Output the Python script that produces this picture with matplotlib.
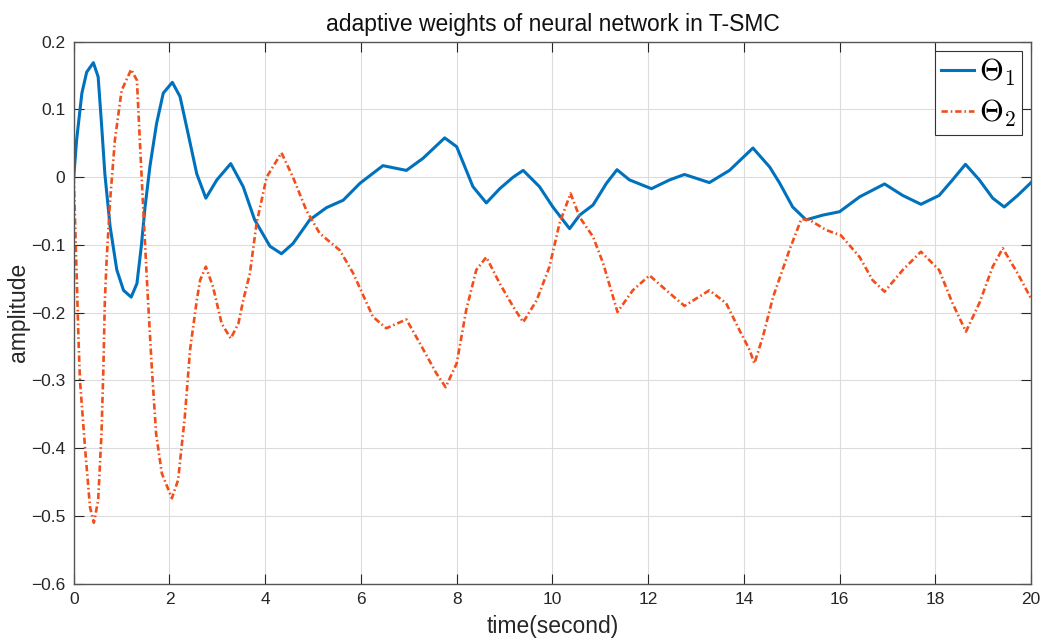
import matplotlib.pyplot as plt
import numpy as np

plt.rcParams["font.family"] = ["Liberation Sans", "DejaVu Sans"]
plt.rcParams["mathtext.fontset"] = "cm"

# values
t1 = [0.0, 0.06, 0.17, 0.27, 0.41, 0.51, 0.58, 0.65, 0.76, 0.90, 1.04, 1.20, 1.32,
      1.41, 1.49, 1.59, 1.73, 1.87, 2.06, 2.22, 2.39, 2.57, 2.76, 2.99, 3.28, 3.54,
      3.78, 4.10, 4.34, 4.58, 4.93, 5.28, 5.63, 5.98, 6.46, 6.95, 7.30, 7.75, 8.00,
      8.34, 8.62, 8.90, 9.18, 9.39, 9.73, 10.01, 10.36, 10.57, 10.85, 11.13, 11.35,
      11.61, 12.07, 12.45, 12.76, 13.28, 13.70, 14.19, 14.54, 14.75, 15.02, 15.30,
      15.65, 16.00, 16.42, 16.94, 17.32, 17.70, 18.08, 18.36, 18.63, 18.92, 19.20,
      19.44, 19.72, 20.0]
theta1 = [0.0, 0.055, 0.124, 0.155, 0.169, 0.148, 0.079, 0.005, -0.073, -0.137,
          -0.167, -0.177, -0.157, -0.103, -0.044, 0.015, 0.079, 0.124, 0.140, 0.119,
          0.064, 0.005, -0.031, -0.004, 0.020, -0.014, -0.063, -0.102, -0.113, -0.098,
          -0.063, -0.045, -0.034, -0.009, 0.017, 0.010, 0.028, 0.058, 0.045, -0.014,
          -0.038, -0.017, 0.0, 0.010, -0.014, -0.044, -0.076, -0.056, -0.041, -0.009,
          0.011, -0.004, -0.017, -0.004, 0.004, -0.008, 0.010, 0.043, 0.015, -0.009,
          -0.044, -0.063, -0.056, -0.051, -0.029, -0.010, -0.027, -0.040, -0.027,
          -0.004, 0.019, -0.004, -0.031, -0.044, -0.027, -0.008]

t2 = [0.0, 0.06, 0.10, 0.13, 0.24, 0.34, 0.42, 0.51, 0.58, 0.62, 0.65, 0.69, 0.76,
      0.86, 1.00, 1.20, 1.32, 1.38, 1.45, 1.54, 1.63, 1.72, 1.84, 2.05, 2.18, 2.32,
      2.43, 2.57, 2.64, 2.76, 2.91, 3.09, 3.28, 3.44, 3.54, 3.68, 3.82, 4.03, 4.34,
      4.58, 4.86, 5.14, 5.56, 5.84, 6.25, 6.53, 6.95, 7.23, 7.58, 7.77, 8.00, 8.20,
      8.41, 8.62, 8.90, 9.18, 9.39, 9.67, 9.94, 10.15, 10.38, 10.57, 10.85, 11.06,
      11.36, 11.68, 12.03, 12.38, 12.76, 13.28, 13.63, 13.91, 14.12, 14.22, 14.40,
      14.61, 14.95, 15.20, 15.37, 15.72, 16.03, 16.42, 16.69, 16.94, 17.32, 17.70,
      18.08, 18.36, 18.64, 18.92, 19.20, 19.41, 19.72, 20.0]
theta2 = [0.0, -0.142, -0.241, -0.300, -0.403, -0.487, -0.510, -0.477, -0.378,
          -0.280, -0.182, -0.118, -0.034, 0.055, 0.128, 0.159, 0.143, 0.055, -0.044,
          -0.167, -0.280, -0.378, -0.437, -0.474, -0.447, -0.354, -0.255, -0.182,
          -0.152, -0.132, -0.162, -0.216, -0.238, -0.216, -0.182, -0.142, -0.068,
          0.0, 0.036, 0.0, -0.049, -0.083, -0.108, -0.142, -0.206, -0.223, -0.210,
          -0.245, -0.290, -0.310, -0.275, -0.196, -0.137, -0.118, -0.157, -0.191,
          -0.214, -0.182, -0.132, -0.068, -0.024, -0.059, -0.088, -0.127, -0.199,
          -0.167, -0.145, -0.167, -0.190, -0.167, -0.186, -0.226, -0.255, -0.275,
          -0.235, -0.177, -0.108, -0.062, -0.063, -0.078, -0.086, -0.118, -0.152,
          -0.169, -0.137, -0.110, -0.137, -0.186, -0.228, -0.186, -0.132, -0.105,
          -0.142, -0.179]

xticks = [0, 2, 4, 6, 8, 10, 12, 14, 16, 18, 20]
yticks = [-0.6, -0.5, -0.4, -0.3, -0.2, -0.1, 0, 0.1, 0.2]
ytick_labels = ["\u22120.6", "\u22120.5", "\u22120.4", "\u22120.3", "\u22120.2",
                "\u22120.1", "0", "0.1", "0.2"]

fig = plt.figure(figsize=(10.58, 6.41), dpi=100)
ax = fig.add_axes([0.0697, 0.0894, 0.9048, 0.8456])

ax.plot(t1, theta1, color="#0072BD", linewidth=2.2, label=r"$\Theta_1$",
        solid_joinstyle="round")
ax.plot(t2, theta2, color="#F24E1A", linewidth=1.9, linestyle=(0, (2.4, 1.1, 0.6, 1.1)),
        label=r"$\Theta_2$", dash_joinstyle="round")

ax.set_xlim(0, 20)
ax.set_ylim(-0.6, 0.2)
ax.set_xticks(xticks)
ax.set_yticks(yticks)
ax.set_yticklabels(ytick_labels)
ax.tick_params(direction="in", length=7, width=0.8, top=True, right=True,
               labelsize=12.5, colors="#262626", pad=6)
for s in ax.spines.values():
    s.set_color("#555555")
    s.set_linewidth(1.0)
ax.grid(True, color="#dcdcdc", linewidth=0.8)

ax.set_title("adaptive weights of neural network in T-SMC", fontsize=16.5,
             color="#111111", pad=8)
ax.set_xlabel("time(second)", fontsize=16.5, color="#262626", labelpad=6)
ax.set_ylabel("amplitude", fontsize=16.5, color="#262626", labelpad=1)

leg = ax.legend(loc="upper right", fontsize=22, handlelength=1.1, handletextpad=0.15,
                borderpad=0.2, labelspacing=0.3, fancybox=False, framealpha=1,
                borderaxespad=0.3)
leg.get_frame().set_edgecolor("#333333")
leg.get_frame().set_linewidth(0.8)

plt.savefig("out.png", dpi=100)
